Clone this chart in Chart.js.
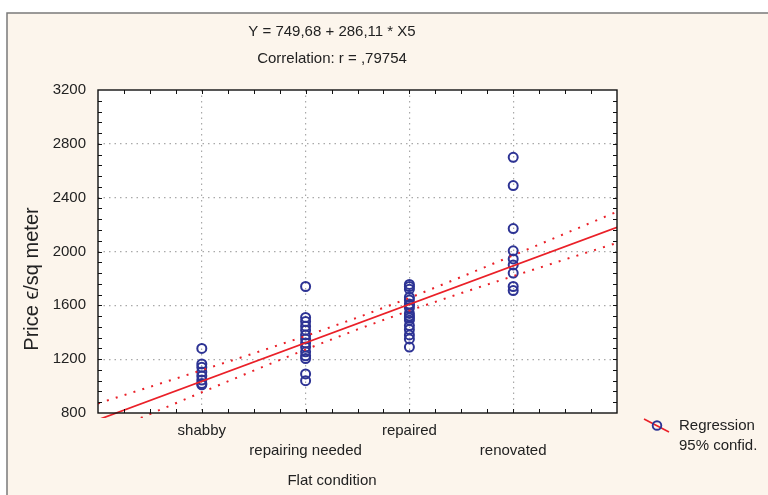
<!DOCTYPE html>
<html>
<head>
<meta charset="utf-8">
<script src="https://cdn.jsdelivr.net/npm/chart.js@4.4.1/dist/chart.umd.min.js"></script>
<style>
  html, body { margin: 0; padding: 0; background: #fff; }
  #wrap { width: 768px; height: 495px; }
</style>
</head>
<body>
<div id="wrap"><canvas id="c"></canvas></div>
<script>
// categories on the x axis (X5 = 1..4)
const categories = ['shabby', 'repairing needed', 'repaired', 'renovated'];

// price per sq meter, one list per category
const shabbyPrices       = [1280, 1165, 1140, 1105, 1075, 1045, 1020, 1010];
const repairNeededPrices = [1740, 1510, 1480, 1445, 1415, 1380, 1350, 1320, 1290, 1255, 1225, 1205, 1090, 1040];
const repairedPrices     = [1755, 1740, 1720, 1660, 1640, 1610, 1600, 1580, 1540, 1520, 1505, 1490, 1450, 1420, 1380, 1350, 1290];
const renovatedPrices    = [2700, 2490, 2170, 2005, 1945, 1900, 1840, 1740, 1710];

// regression line Y = 749,68 + 286,11 * X5, end points
const regX = [0, 5];
const regY = [749.68, 2180.23];

// 95% confidence band, read at every half step
const bandX     = [0, 0.5, 1, 1.5, 2, 2.5, 3, 3.5, 4, 4.5, 5];
const bandUpper = [871, 994, 1118, 1243, 1372, 1509, 1655, 1811, 1971, 2133, 2296];
const bandLower = [629, 792, 954, 1115, 1272, 1421, 1561, 1691, 1817, 1941, 2064];

const RED  = '#ea2028';
const NAVY = '#2d3394';
const FONT = "'Liberation Sans', Arial, sans-serif";

const pricePoints = [shabbyPrices, repairNeededPrices, repairedPrices, renovatedPrices]
  .flatMap((arr, i) => arr.map(y => ({ x: i + 1, y })));

const xy = (xs, ys) => xs.map((x, i) => ({ x, y: ys[i] }));

// fond crème, cadre, textes, légende et graduations intérieures
const statFrame = {
  id: 'statFrame',
  beforeDraw(chart) {
    const { ctx, chartArea: a, width, height } = chart;
    ctx.save();
    ctx.fillStyle = '#fff';
    ctx.fillRect(0, 0, width, height);
    ctx.fillStyle = '#fcf5ec';
    ctx.fillRect(7, 13, width - 7, height - 13);
    ctx.strokeStyle = '#7a7a7a';
    ctx.lineWidth = 1.5;
    ctx.beginPath();
    ctx.moveTo(7, height); ctx.lineTo(7, 13); ctx.lineTo(width, 13);
    ctx.stroke();
    ctx.fillStyle = '#fff';
    ctx.fillRect(a.left, a.top, a.right - a.left, a.bottom - a.top);
    ctx.restore();
  },
  afterDraw(chart) {
    const { ctx, chartArea: a, scales: { x, y } } = chart;
    ctx.save();
    // cadre du graphe
    ctx.strokeStyle = '#111';
    ctx.lineWidth = 1.4;
    ctx.strokeRect(a.left, a.top, a.right - a.left, a.bottom - a.top);
    // graduations vers l'intérieur
    ctx.lineWidth = 1;
    ctx.beginPath();
    for (let v = 0.25; v < 5; v += 0.25) {
      const px = Math.round(x.getPixelForValue(v)) + 0.5;
      ctx.moveTo(px, a.bottom); ctx.lineTo(px, a.bottom - 4);
      ctx.moveTo(px, a.top);    ctx.lineTo(px, a.top + 4);
    }
    for (let v = 880; v < 3200; v += 80) {
      const py = Math.round(y.getPixelForValue(v)) + 0.5;
      ctx.moveTo(a.left, py);  ctx.lineTo(a.left + 4, py);
      ctx.moveTo(a.right, py); ctx.lineTo(a.right - 4, py);
    }
    ctx.stroke();

    // textes
    ctx.fillStyle = '#222';
    ctx.textAlign = 'center';
    ctx.textBaseline = 'middle';
    ctx.font = '15px ' + FONT;
    ctx.fillText('Y = 749,68 + 286,11 * X5', 332, 32);
    ctx.fillText('Correlation: r = ,79754', 332, 59);
    ctx.fillText('Flat condition', 332, 481);
    ctx.save();
    ctx.translate(32, 279);
    ctx.rotate(-Math.PI / 2);
    ctx.font = '20px ' + FONT;
    ctx.fillText('Price \u03F5/sq meter', 0, 0);
    ctx.restore();

    // légende
    ctx.strokeStyle = RED;
    ctx.lineWidth = 1.6;
    ctx.beginPath();
    ctx.moveTo(644, 419); ctx.lineTo(669, 432);
    ctx.stroke();
    ctx.strokeStyle = NAVY;
    ctx.lineWidth = 1.9;
    ctx.beginPath();
    ctx.arc(657, 425.5, 4.3, 0, Math.PI * 2);
    ctx.stroke();
    ctx.fillStyle = '#222';
    ctx.textAlign = 'left';
    ctx.font = '15px ' + FONT;
    ctx.fillText('Regression', 679, 426);
    ctx.fillText('95% confid.', 679, 446);
    ctx.restore();
  }
};

const bandStyle = {
  type: 'line',
  borderColor: RED,
  borderWidth: 2,
  borderDash: [2, 7.3],
  pointRadius: 0,
  fill: false,
  clip: { left: 0, top: 0, right: 0, bottom: 5 },
};

const gridColor = edges => c => (c.tick && edges.includes(c.tick.value)) ? 'rgba(0,0,0,0)' : '#a9a9a9';

new Chart(document.getElementById('c'), {
  type: 'scatter',
  data: {
    datasets: [
      { label: 'Regression', type: 'line', data: xy(regX, regY), borderColor: RED, borderWidth: 1.7,
        pointRadius: 0, fill: false, clip: { left: 0, top: 0, right: 0, bottom: 5 } },
      { label: '95% upper', data: xy(bandX, bandUpper), ...bandStyle },
      { label: '95% lower', data: xy(bandX, bandLower), ...bandStyle },
      { label: 'Price', data: pricePoints, pointStyle: 'circle', pointRadius: 4.5,
        borderColor: NAVY, borderWidth: 2, backgroundColor: 'rgba(0,0,0,0)' },
    ]
  },
  options: {
    responsive: true,
    maintainAspectRatio: false,
    animation: false,
    layout: { padding: { top: 90, right: 151, bottom: 0, left: 0 } },
    scales: {
      x: {
        type: 'linear', min: 0, max: 5,
        ticks: {
          stepSize: 1, autoSkip: false, maxRotation: 0, padding: 8,
          color: '#222', font: { family: FONT, size: 15, lineHeight: 1.33 },
          callback: v => {
            const i = v - 1;
            if (i < 0 || i >= categories.length) return '';
            return i % 2 === 0 ? [categories[i], ''] : ['', categories[i]];
          }
        },
        grid: { drawTicks: false, lineWidth: 1.2, color: gridColor([0, 5]) },
        border: { display: false, dash: [1.5, 4] },
        afterFit(s) { s.height = 82; }
      },
      y: {
        min: 800, max: 3200,
        ticks: { stepSize: 400, padding: 12, color: '#222', font: { family: FONT, size: 15 },
                 callback: v => String(v) },
        grid: { drawTicks: false, lineWidth: 1.2, color: gridColor([800, 3200]) },
        border: { display: false, dash: [1.5, 4] },
        afterFit(s) { s.width = 98; }
      }
    },
    plugins: { legend: { display: false }, tooltip: { enabled: false } }
  },
  plugins: [statFrame]
});
</script>
</body>
</html>
